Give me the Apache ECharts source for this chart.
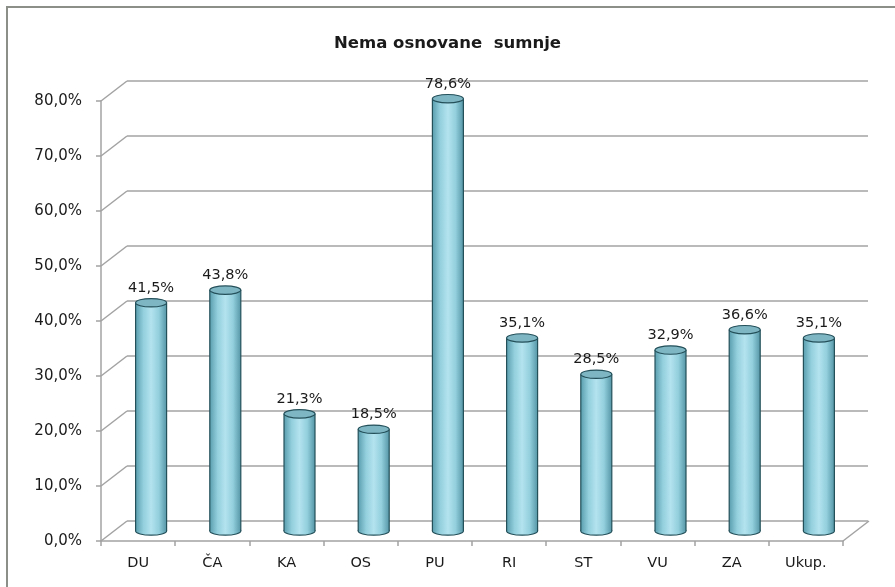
<!DOCTYPE html>
<html>
<head>
<meta charset="utf-8">
<script src="https://cdn.jsdelivr.net/npm/echarts@6/dist/echarts.min.js"></script>
<style>
  html, body { margin: 0; padding: 0; background: #fff; }
  #chart { width: 895px; height: 587px; }
</style>
</head>
<body>
<div id="chart"></div>
<script>
// podaci
const categories = ['DU', 'ČA', 'KA', 'OS', 'PU', 'RI', 'ST', 'VU', 'ZA', 'Ukup.'];
const values = [41.5, 43.8, 21.3, 18.5, 78.6, 35.1, 28.5, 32.9, 36.6, 35.1];
const yTicks = [0, 10, 20, 30, 40, 50, 60, 70, 80];

const DX = 26, DY = -20;   // pomak dubine (3D)
const gridColor = '#a3a3a3';
const font = 'DejaVu Sans';

const fmt = v => v.toFixed(1).replace('.', ',') + '%';

const chart = echarts.init(document.getElementById('chart'));

chart.setOption({
    animation: false,
    title: {
        text: 'Nema osnovane  sumnje',
        left: 'center',
        top: 30,
        textStyle: {fontFamily: font, fontSize: 16.5, fontWeight: 'bold', color: '#1a1a1a'}
    },
    graphic: [{
        type: 'rect',
        shape: {x: 7, y: 7, width: 900, height: 600},
        style: {fill: 'none', stroke: '#8c8e88', lineWidth: 2}
    }],
    grid: [
        {left: 101, right: 52, top: 101, bottom: 46},
        {left: 127, right: 27, top: 81, bottom: 66}
    ],
    xAxis: [{
        type: 'category',
        gridIndex: 0,
        data: categories,
        axisLine: {lineStyle: {color: gridColor, width: 1.5}},
        axisTick: {show: true, length: 5, lineStyle: {color: gridColor, width: 1.5}},
        axisLabel: {fontFamily: font, fontSize: 14.5, color: '#1a1a1a', margin: 15}
    }, {
        type: 'category',
        gridIndex: 1,
        data: categories,
        show: false
    }],
    yAxis: [{
        type: 'value',
        gridIndex: 0,
        min: 0, max: 80, interval: 10,
        axisLine: {show: true, lineStyle: {color: gridColor, width: 1.5}},
        axisTick: {show: true, length: 5, lineStyle: {color: gridColor, width: 1.5}},
        splitLine: {show: false},
        axisLabel: {fontFamily: font, fontSize: 15, color: '#1a1a1a', margin: 19, formatter: fmt}
    }, {
        type: 'value',
        gridIndex: 1,
        min: 0, max: 80, interval: 10,
        axisLine: {show: false},
        axisTick: {show: false},
        axisLabel: {show: false},
        splitLine: {show: true, lineStyle: {color: gridColor, width: 1.5}}
    }],
    series: [{
        // kose linije lijevog zida i poda
        type: 'custom',
        xAxisIndex: 0, yAxisIndex: 0,
        data: yTicks.map(t => [0, t]),
        z: 1,
        silent: true,
        renderItem: function (params, api) {
            const cs = params.coordSys;
            const y = api.coord([0, api.value(1)])[1];
            const children = [{
                type: 'line',
                shape: {x1: cs.x, y1: y, x2: cs.x + DX, y2: y + DY},
                style: {stroke: gridColor, lineWidth: 1.5}
            }];
            if (api.value(1) === 0) {
                children.push({
                    type: 'line',
                    shape: {x1: cs.x + cs.width, y1: y, x2: cs.x + cs.width + DX, y2: y + DY},
                    style: {stroke: gridColor, lineWidth: 1.5}
                });
            }
            return {type: 'group', children: children};
        }
    }, {
        // valjci
        type: 'custom',
        xAxisIndex: 0, yAxisIndex: 0,
        data: values.map((v, i) => [i, v]),
        z: 5,
        renderItem: function (params, api) {
            const i = api.value(0);
            const v = api.value(1);
            const base = api.coord([i, 0]);
            const top = api.coord([i, v]);
            const cx = base[0] + DX / 2;
            const yb = base[1] + DY / 2;
            const yt = top[1] + DY / 2;
            const rx = 15.5, ry = 4.2;
            const body = new echarts.graphic.LinearGradient(0, 0, 1, 0, [
                {offset: 0, color: '#5a9eae'},
                {offset: 0.25, color: '#93cfdd'},
                {offset: 0.5, color: '#b3e3ee'},
                {offset: 0.75, color: '#93cfdd'},
                {offset: 1, color: '#5596a6'}
            ]);
            const edge = '#24505a';
            return {
                type: 'group',
                children: [{
                    type: 'ellipse',
                    shape: {cx: cx, cy: yb, rx: rx, ry: ry},
                    style: {fill: body, stroke: edge, lineWidth: 1.2}
                }, {
                    type: 'rect',
                    shape: {x: cx - rx, y: yt, width: rx * 2, height: yb - yt},
                    style: {fill: body}
                }, {
                    type: 'line',
                    shape: {x1: cx - rx, y1: yt, x2: cx - rx, y2: yb},
                    style: {stroke: edge, lineWidth: 1.2}
                }, {
                    type: 'line',
                    shape: {x1: cx + rx, y1: yt, x2: cx + rx, y2: yb},
                    style: {stroke: edge, lineWidth: 1.2}
                }, {
                    type: 'ellipse',
                    shape: {cx: cx, cy: yt, rx: rx, ry: ry},
                    style: {fill: '#7fb6c4', stroke: edge, lineWidth: 1.2}
                }, {
                    type: 'text',
                    style: {
                        text: fmt(v),
                        x: cx, y: yt - ry - 3,
                        align: 'center', verticalAlign: 'bottom',
                        fontFamily: font, fontSize: 14.5, fill: '#1a1a1a'
                    }
                }]
            };
        }
    }]
});
</script>
</body>
</html>
